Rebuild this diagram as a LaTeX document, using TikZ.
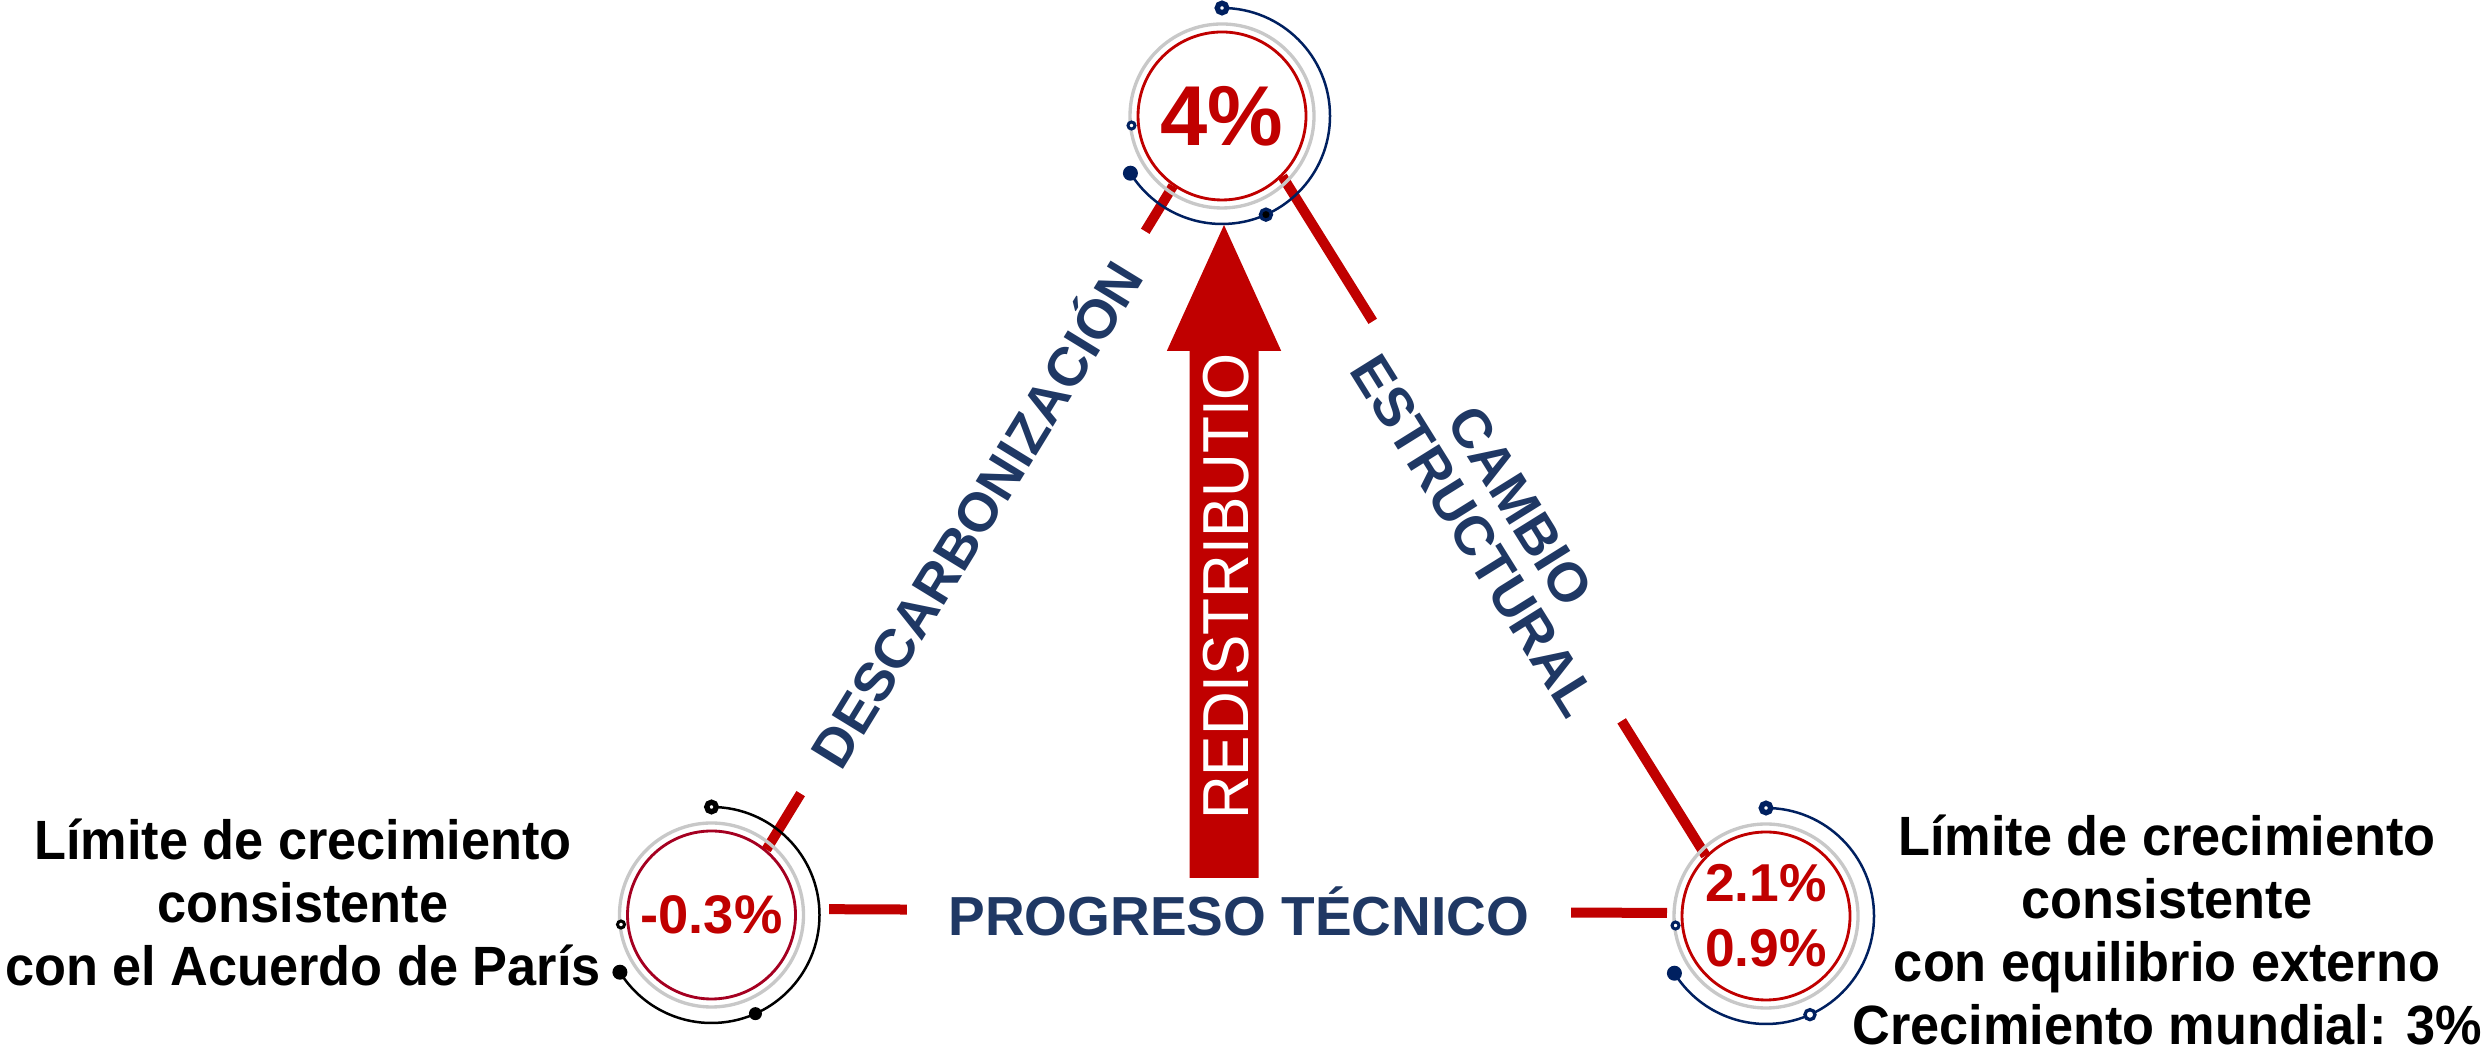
\documentclass[tikz,border=0pt]{standalone}
\usepackage{fontspec}
\setmainfont{Liberation Sans}
\newfontfamily\condfont[FakeStretch=0.945]{Liberation Sans}
\newfontfamily\redisfont[FakeStretch=0.93]{Liberation Sans}
\definecolor{barred}{HTML}{C00000}
\definecolor{ringcrimson}{HTML}{A50021}
\definecolor{ringgray}{HTML}{C8C8C8}
\definecolor{orbitnavy}{HTML}{002060}
\definecolor{labelnavy}{HTML}{1F3864}
\begin{document}
\begin{tikzpicture}[scale=1.000000,x=0.3pt,y=0.3pt,
  vring/.style={circle,draw=barred,line width=0.85pt,fill=white,minimum size=50.4pt,inner sep=0pt},
  valtxt/.style={text=barred,align=center},
  redbar/.style={draw=barred,line width=3pt},
  edgelbl/.style={fill=white,text=labelnavy,font=\bfseries\fontsize{16.5}{16.5}\selectfont,inner ysep=1pt},
  grayring/.style={draw=ringgray,line width=1pt},
  orbit/.style={line width=0.75pt},
  sidetxt/.style={align=center,font=\condfont\bfseries\fontsize{16.6}{18.9}\selectfont}]
\useasboundingbox (0.000000,0.000000) rectangle (2484.000000,1053.000000);
\fill[color=white] (0.000000,0.000000) rectangle (2484.000000,1053.000000);
% Drawing vertices
% Vertex 1: top, 4%
\node[vring] (vtop) at (1222.000000,937.000000) {};
% Vertex 2: bottom left, -0.3%
\node[vring,draw=ringcrimson] (vleft) at (711.500000,138.000000) {};
% Vertex 3: bottom right, 2.1% 0.9%
\node[vring] (vright) at (1766.000000,137.000000) {};
% Done with vertices; drawing edges
% Edge 1: top -- left
\draw[redbar] (vtop.235) -- node[edgelbl,sloped,pos=0.492,inner xsep=11.8pt] (lbldecarb) {DESCARBONIZACIÓN} (vleft.50);
% Edge 2: top -- right
\draw[redbar] (vtop.-45) -- node[edgelbl,sloped,pos=0.5075,inner xsep=8.7pt,align=center] (lblcambio) {CAMBIO\\ESTRUCTURAL} (vright.135);
% Edge 3: left -- right
\draw[redbar,shorten <=9.7pt,shorten >=4.1pt] (vleft.4) -- node[edgelbl,inner xsep=12.5pt] (lblprog) {PROGRESO TÉCNICO} (vright.178);
% Done with edges; drawing the arrow
\coordinate (arrtip) at (1224.000000,828.000000);
\fill[barred] (1189.500000,175.000000) -- (1189.500000,702.000000) -- (1166.800000,702.000000) -- (arrtip) -- (1281.200000,702.000000) -- (1258.500000,702.000000) -- (1258.500000,175.000000) -- cycle;
\node[text=white,rotate=90,font=\redisfont\fontsize{19.5}{19.5}\selectfont] (redis) at (1226.000000,466.500000) {REDISTRIBUTIO};
% Done with arrow; drawing rings
% Ring 1: top, navy
\draw[grayring] (vtop.center) circle[radius=92];
\draw[orbit,orbitnavy] (vtop.center) ++(90:108) arc[start angle=90,end angle=-148,radius=108];
\filldraw[orbitnavy,fill=white,line width=1.6pt] (vtop.center) ++(90:108) circle[radius=4.75];
\filldraw[orbitnavy,fill=white,line width=0.9pt] (vtop.center) ++(186:91) circle[radius=3.5];
\fill[orbitnavy] (vtop.center) ++(-148:108) circle[radius=7.5];
\filldraw[orbitnavy,fill=black,line width=1pt] (vtop.center) ++(-66:108) circle[radius=5.5];
% Ring 2: left, black
\draw[grayring] (vleft.center) circle[radius=92];
\draw[orbit,black] (vleft.center) ++(90:108) arc[start angle=90,end angle=-148,radius=108];
\filldraw[black,fill=white,line width=1.6pt] (vleft.center) ++(90:108) circle[radius=4.75];
\filldraw[black,fill=white,line width=0.9pt] (vleft.center) ++(186:91) circle[radius=3.5];
\fill[black] (vleft.center) ++(-148:108) circle[radius=7.5];
\fill[black] (vleft.center) ++(-66:108) circle[radius=6.5];
% Ring 3: right, navy
\draw[grayring] (vright.center) circle[radius=92];
\draw[orbit,orbitnavy] (vright.center) ++(90:108) arc[start angle=90,end angle=-148,radius=108];
\filldraw[orbitnavy,fill=white,line width=1.6pt] (vright.center) ++(90:108) circle[radius=4.75];
\filldraw[orbitnavy,fill=white,line width=0.9pt] (vright.center) ++(186:91) circle[radius=3.5];
\fill[orbitnavy] (vright.center) ++(-148:108) circle[radius=7.5];
\filldraw[orbitnavy,fill=white,line width=1pt] (vright.center) ++(-66:108) circle[radius=5];
% Done with rings; drawing values and side labels
\node[valtxt,font=\bfseries\fontsize{25.5}{25.5}\selectfont] (valtop) at (vtop) {4\%};
\node[valtxt,font=\bfseries\fontsize{16.3}{16.3}\selectfont] (valleft) at (vleft) {-0.3\%};
\node[valtxt,font=\bfseries\fontsize{16}{19.5}\selectfont] (valright) at (vright) {2.1\%\\0.9\%};
\node[sidetxt] (txtleft) at (303.000000,151.000000) {Límite de crecimiento\\consistente\\con el Acuerdo de París};
\node[sidetxt] (txtright) at (2167.000000,123.000000) {Límite de crecimiento\\consistente\\con equilibrio externo\\Crecimiento mundial: 3\%};
% Done with labels
\end{tikzpicture}
\end{document}
